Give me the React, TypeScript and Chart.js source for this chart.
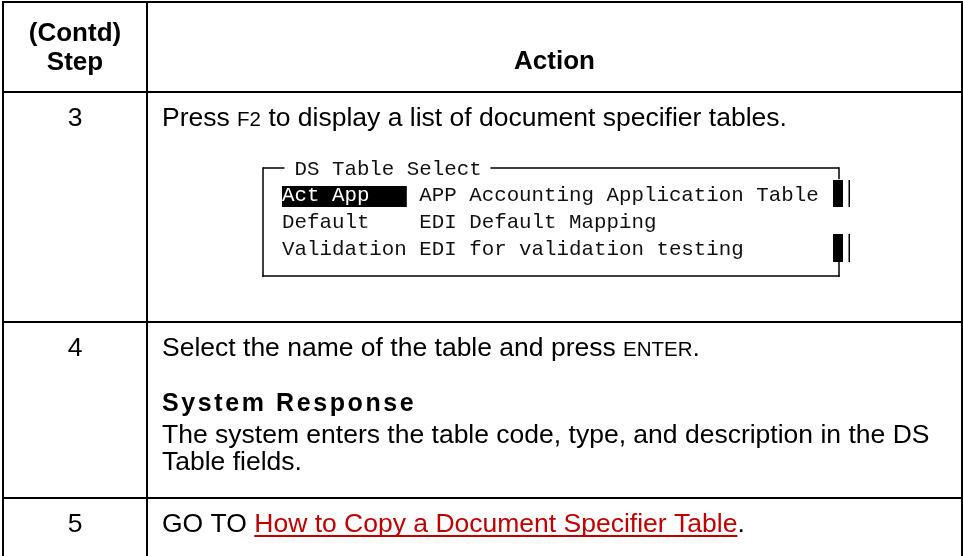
import React, { useEffect, useRef } from "react";
import { Chart, registerables } from "chart.js";

Chart.register(...registerables);

// ---- table content ----
const columnEdges = [3, 147, 962];
const rowEdges = [2, 92, 322, 498];
const headerStep = ["(Contd)", "Step"];
const headerAction = "Action";
const stepNumbers = ["3", "4", "5"];
const step3Runs = [
  { text: "Press ", small: false },
  { text: "F2", small: true },
  { text: " to display a list of document specifier tables.", small: false },
];
const step4Runs = [
  { text: "Select the name of the table and press ", small: false },
  { text: "ENTER", small: true },
  { text: ".", small: false },
];
const step4Heading = "System Response";
const step4Lines = [
  "The system enters the table code, type, and description in the DS",
  "Table fields.",
];
const step5Prefix = "GO TO ";
const step5Link = "How to Copy a Document Specifier Table";
const step5Suffix = ".";
const dsTitle = "DS Table Select";
const dsCodes = ["Act App", "Default", "Validation"];
const dsDescriptions = [
  "APP Accounting Application Table",
  "EDI Default Mapping",
  "EDI for validation testing",
];

const SANS = '"Liberation Sans", Arial, sans-serif';
const MONO = '"Liberation Mono", "DejaVu Sans Mono", monospace';
const HEAD = 26;
const BODY = 26.5;
const SMALL = 20.5;
const LINK_RED = "#c00000";

const tablePlugin = {
  id: "tableText",
  afterDraw(chart: any) {
    const ctx: CanvasRenderingContext2D = chart.ctx;
    const xs = chart.scales.x;
    const ys = chart.scales.y;
    const X = (v: number) => xs.getPixelForValue(v);
    const Y = (v: number) => ys.getPixelForValue(v);
    ctx.save();
    ctx.textBaseline = "alphabetic";
    ctx.fillStyle = "#000";

    const colMid = (i: number) => X((columnEdges[i] + columnEdges[i + 1]) / 2);
    const textLeft = X(columnEdges[1] + 15);

    // header
    ctx.font = `bold ${HEAD}px ${SANS}`;
    ctx.textAlign = "center";
    ctx.fillText(headerStep[0], colMid(0), Y(41));
    ctx.fillText(headerStep[1], colMid(0), Y(70));
    ctx.fillText(headerAction, colMid(1), Y(69));

    // step numbers
    ctx.font = `${BODY}px ${SANS}`;
    const stepBaselines = [126, 356, 532];
    stepNumbers.forEach((s, i) => ctx.fillText(s, colMid(0), Y(stepBaselines[i])));

    ctx.textAlign = "left";
    const drawRuns = (runs: { text: string; small: boolean }[], x: number, y: number) => {
      let cx = x;
      runs.forEach((r) => {
        ctx.font = `${r.small ? SMALL : BODY}px ${SANS}`;
        ctx.fillText(r.text, cx, y);
        cx += ctx.measureText(r.text).width;
      });
      return cx;
    };

    drawRuns(step3Runs, textLeft, Y(126));
    drawRuns(step4Runs, textLeft, Y(356));

    ctx.font = `bold 25px ${SANS}`;
    (ctx as any).letterSpacing = "2.6px";
    ctx.fillText(step4Heading, textLeft, Y(411));
    (ctx as any).letterSpacing = "0px";

    ctx.font = `${BODY}px ${SANS}`;
    ctx.fillText(step4Lines[0], textLeft, Y(443));
    ctx.fillText(step4Lines[1], textLeft, Y(470));

    // step 5 with link
    ctx.font = `${BODY}px ${SANS}`;
    let cx = textLeft;
    ctx.fillText(step5Prefix, cx, Y(532));
    cx += ctx.measureText(step5Prefix).width;
    ctx.fillStyle = LINK_RED;
    ctx.fillText(step5Link, cx, Y(532));
    const lw = ctx.measureText(step5Link).width;
    ctx.fillRect(cx, Y(535), lw, 2);
    cx += lw;
    ctx.fillStyle = "#000";
    ctx.fillText(step5Suffix, cx, Y(532));

    // DS Table Select screen box
    const monoSize = 20.8;
    const cw = monoSize * 0.6;
    const x0 = X(282);
    const boxL = X(263);
    const boxR = X(839);
    const boxT = Y(168);
    const boxB = Y(276);
    ctx.font = `${monoSize}px ${MONO}`;
    const lineW = 1.5;
    ctx.fillStyle = "#000";
    // top border with title gap
    ctx.fillRect(boxL, boxT - lineW / 2, x0 + 0.2 * cw - boxL, lineW);
    const titleStart = x0 + cw;
    const titleEnd = titleStart + dsTitle.length * cw;
    ctx.fillStyle = "#111";
    ctx.fillText(dsTitle, titleStart, Y(175));
    ctx.fillStyle = "#000";
    ctx.fillRect(titleEnd + 0.7 * cw, boxT - lineW / 2, boxR - (titleEnd + 0.7 * cw), lineW);
    // left & bottom
    ctx.fillRect(boxL - lineW / 2, boxT - lineW / 2, lineW, boxB - boxT + lineW);
    ctx.fillRect(boxL - lineW / 2, boxB - lineW / 2, boxR - boxL + lineW, lineW);
    // right border pieces
    ctx.fillRect(boxR - lineW / 2, boxT - lineW / 2, lineW, Y(180) - boxT);
    ctx.fillRect(boxR - lineW / 2, Y(262), lineW, boxB - Y(262) + lineW / 2);
    // scroll blocks
    ctx.fillRect(X(833), Y(180), X(843) - X(833), Y(207) - Y(180));
    ctx.fillRect(X(833), Y(234), X(843) - X(833), Y(262) - Y(234));
    ctx.fillRect(X(848.5), Y(180), 1.5, Y(207) - Y(180));
    ctx.fillRect(X(848.5), Y(234), 1.5, Y(262) - Y(234));

    // highlight on first row
    ctx.fillRect(x0, Y(186), 10 * cw, Y(207) - Y(186));
    const rowBase = [201, 228, 255];
    dsCodes.forEach((c, i) => {
      ctx.fillStyle = i === 0 ? "#fff" : "#111";
      ctx.fillText(c, x0, Y(rowBase[i]));
      ctx.fillStyle = "#111";
      ctx.fillText(dsDescriptions[i], x0 + 11 * cw, Y(rowBase[i]));
    });

    ctx.restore();
  },
};

export default function App() {
  const ref = useRef<HTMLCanvasElement | null>(null);
  useEffect(() => {
    if (!ref.current) return;
    const chart = new Chart(ref.current, {
      type: "scatter",
      data: { datasets: [] },
      options: {
        animation: false,
        responsive: false,
        devicePixelRatio: 1,
        layout: { padding: { left: 2, top: 1, right: 0, bottom: 0 } },
        plugins: { legend: { display: false }, tooltip: { enabled: false } },
        events: [],
        scales: {
          x: {
            type: "linear",
            min: 2,
            max: 963,
            afterBuildTicks: (scale: any) => {
              scale.ticks = columnEdges.map((v) => ({ value: v }));
            },
            ticks: { display: false },
            grid: { color: "#000", lineWidth: 2, drawTicks: false },
            border: { display: false },
          },
          y: {
            type: "linear",
            reverse: true,
            min: 1,
            max: 556,
            afterBuildTicks: (scale: any) => {
              scale.ticks = rowEdges.map((v) => ({ value: v }));
            },
            ticks: { display: false },
            grid: { color: "#000", lineWidth: 2, drawTicks: false },
            border: { display: false },
          },
        },
      },
      plugins: [tablePlugin],
    } as any);
    return () => chart.destroy();
  }, []);
  return (
    <div style={{ position: "absolute", left: 0, top: 0, width: 963, height: 556, background: "#fff" }}>
      <canvas ref={ref} width={963} height={556} style={{ display: "block", width: 963, height: 556 }} />
    </div>
  );
}
